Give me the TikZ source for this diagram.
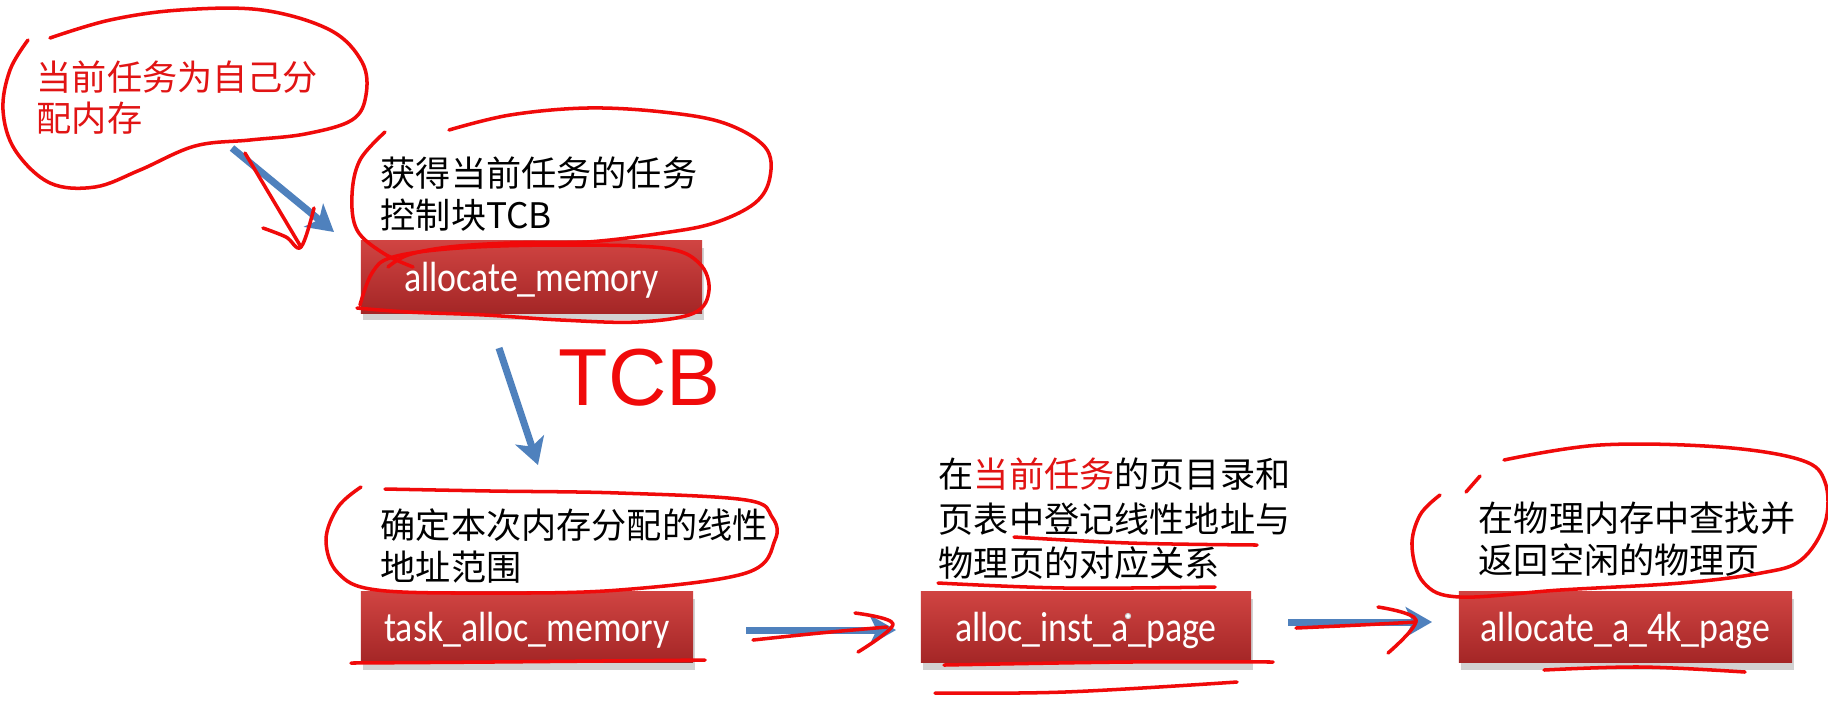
\documentclass[tikz,border=0pt]{standalone}
\usepackage{fontspec}
\newfontfamily\cjk{Noto Sans CJK SC}
\newfontfamily\calfont[FakeStretch=0.85]{Carlito}
\newfontfamily\handfont{Liberation Sans}
\usetikzlibrary{arrows.meta,shadows}
\definecolor{boxtop}{RGB}{208,68,66}
\definecolor{boxbot}{RGB}{164,38,38}
\definecolor{arrblue}{RGB}{79,129,189}
\definecolor{penred}{RGB}{240,10,10}
\definecolor{txtred}{RGB}{225,20,20}
\begin{document}
\begin{tikzpicture}[x=0.01cm,y=-0.01cm,
  fbox/.style={draw=none, top color=boxtop, bottom color=boxbot, text=white,
    inner sep=0pt, text height=8.5pt, text depth=0pt,
    font=\calfont\fontsize{12pt}{14pt}\selectfont,
    drop shadow={shadow xshift=0.5pt, shadow yshift=-2pt, opacity=0.35}},
  cjktext/.style={anchor=base west, inner sep=0pt, font=\cjk\fontsize{10pt}{12pt}\selectfont},
  flow/.style={draw=arrblue, line width=2pt, -{Stealth[length=7.5pt,width=8.5pt,inset=2pt]}},
  pen/.style={draw=penred, line width=1pt, line cap=round, line join=round}]
\useasboundingbox (0,0) rectangle (1828,708);
\fill[white] (0,0) rectangle (1828,708);

% boxes
\node[fbox, minimum width=3.41cm, minimum height=0.72cm] (b1) at (531.5,277) {allocate\_memory};
\node[fbox, minimum width=3.32cm, minimum height=0.71cm] (b2) at (527,627) {task\_alloc\_memory};
\node[fbox, minimum width=3.30cm, minimum height=0.71cm] (b3) at (1086,627) {alloc\_inst\_a\_page};
\node[fbox, minimum width=3.33cm, minimum height=0.71cm] (b4) at (1625.5,627) {allocate\_a\_4k\_page};
\draw[gray!40, fill=white, line width=0.3pt] (1128,616) circle[radius=2.6];

% texts
\node[cjktext, text=txtred] (r1) at (36,90) {当前任务为自己分};
\node[cjktext, text=txtred] (r2) at (36,131) {配内存};
\node[cjktext] (t1) at (380,186) {获得当前任务的任务};
\node[cjktext] (t2) at (380,228) {控制块TCB};
\node[cjktext] (t3) at (380,538) {确定本次内存分配的线性};
\node[cjktext] (t4) at (380,580) {地址范围};
\node[cjktext] (t5) at (938,487) {在{\color{txtred}当前任务}的页目录和};
\node[cjktext] (t6) at (938,532) {页表中登记线性地址与};
\node[cjktext] (t7) at (938,576) {物理页的对应关系};
\node[cjktext] (t8) at (1478,531) {在物理内存中查找并};
\node[cjktext] (t9) at (1478,573) {返回空闲的物理页};
\node[anchor=base west, inner sep=0pt, text=penred, font=\handfont\fontsize{23pt}{23pt}\selectfont] (tcb) at (558,405) {TCB};

% blue arrows
\coordinate (a1s) at (232,148); \coordinate (a1e) at (334,232);
\coordinate (a2s) at (499,348); \coordinate (a2e) at (538,465);
\coordinate (a3s) at (746,630); \coordinate (a3e) at (896,630);
\coordinate (a4s) at (1288,622); \coordinate (a4e) at (1432,622);
\draw[flow] (a1s) -- (a1e);
\draw[flow] (a2s) -- (a2e);
\draw[flow] (a3s) -- (a3e);
\draw[flow] (a4s) -- (a4e);

% red pen annotations
\draw[pen] plot[smooth, tension=0.6] coordinates {(50,38) (110,20) (180,10) (262,10) (330,30) (362,62) (366,95) (352,120) (305,134) (250,140) (195,146) (140,170) (95,187) (50,183) (15,150) (3,110) (10,70) (28,40)};
\draw[pen] (245,153) -- (301,247);
\draw[pen] plot[smooth, tension=0.6] coordinates {(263,228) (286,237) (301,247) (314,208)};
\draw[pen] plot[smooth, tension=0.6] coordinates {(385,132) (360,160) (352,195) (357,230) (383,253) (413,267)};
\draw[pen] plot[smooth, tension=0.6] coordinates {(449,130) (510,115) (587,108) (663,112) (724,123) (765,147) (770,177) (755,203) (714,223) (663,233) (587,242) (510,243) (449,247) (408,255) (388,267)};
\draw[pen] plot[smooth, tension=0.6] coordinates {(360,305) (372,273) (393,257) (459,248) (561,245) (663,248) (699,263) (709,290) (694,313) (638,322) (561,320) (485,315) (408,312) (357,308)};
\draw[pen] plot[smooth, tension=0.6] coordinates {(361,487) (338,507) (326,540) (338,573) (377,590) (491,593) (619,590) (746,573) (775,540) (772,517) (746,500) (619,493) (491,491) (385,489)};
\draw[pen] plot[smooth, tension=0.6] coordinates {(351,663) (491,662) (705,660)};
\draw[pen] plot[smooth, tension=0.6] coordinates {(753,640) (820,633) (887,627)};
\draw[pen] plot[smooth, tension=0.6] coordinates {(855,613) (893,624) (858,652)};
\draw[pen] plot[smooth, tension=0.6] coordinates {(1014,537) (1129,543) (1257,545)};
\draw[pen] plot[smooth, tension=0.6] coordinates {(938,583) (1065,588) (1215,587)};
\draw[pen] plot[smooth, tension=0.6] coordinates {(944,665) (1129,662) (1273,662)};
\draw[pen] plot[smooth, tension=0.6] coordinates {(935,693) (1065,692) (1237,682)};
\draw[pen] plot[smooth, tension=0.6] coordinates {(1296,628) (1360,625) (1416,622)};
\draw[pen] plot[smooth, tension=0.6] coordinates {(1378,607) (1416,620) (1388,653)};
\draw[pen] plot[smooth, tension=0.6] coordinates {(1544,670) (1641,667) (1745,672)};
\draw[pen] plot[smooth, tension=0.6] coordinates {(1504,460) (1600,445) (1720,447) (1801,460) (1825,482) (1825,523) (1801,560) (1761,573) (1681,583) (1560,590) (1460,597) (1424,583) (1412,547) (1420,515) (1440,495)};
\draw[pen] (1466,492) -- (1480,476);
\end{tikzpicture}
\end{document}
